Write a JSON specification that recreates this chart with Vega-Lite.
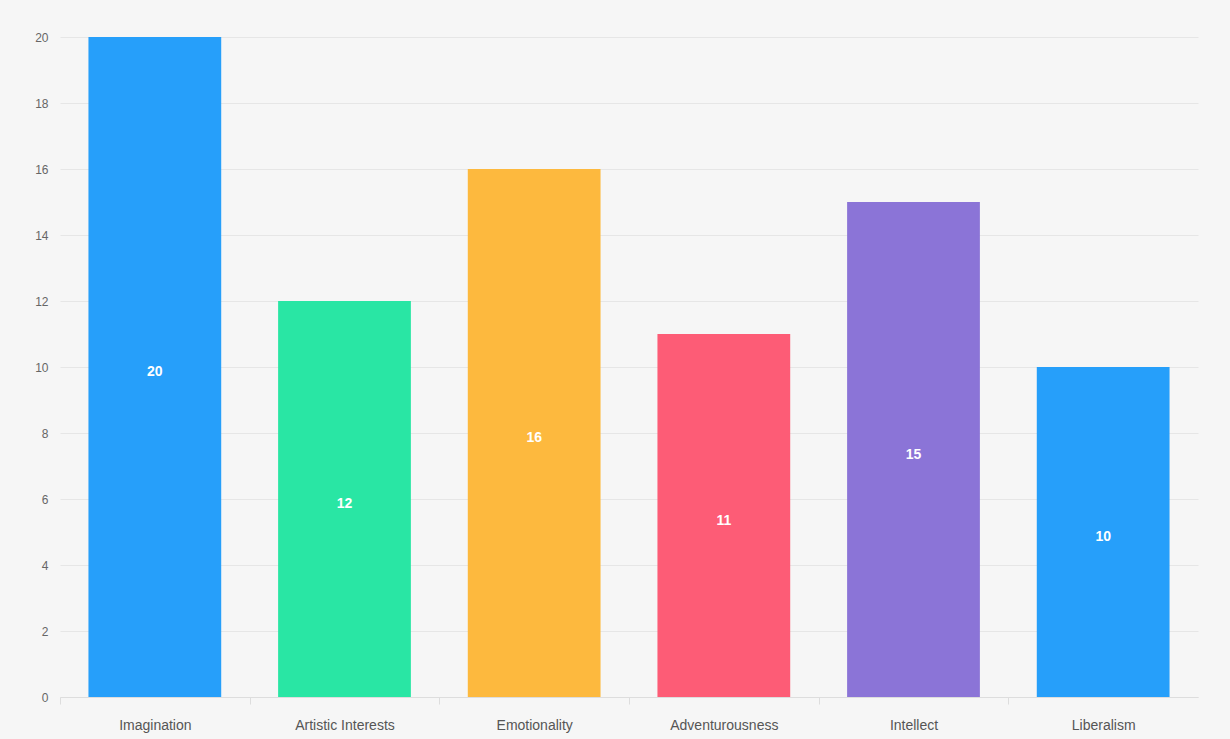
{
  "$schema": "https://vega.github.io/schema/vega-lite/v6.json",
  "autosize": {"type": "none"},
  "padding": {"left": 60, "top": 37, "right": 32, "bottom": 42},
  "width": 1138,
  "height": 660,
  "background": "#f6f6f6",
  "config": {
    "view": {"stroke": null},
    "font": "Liberation Sans"
  },
  "data": {
    "values": [
      {"trait": "Imagination", "score": 20},
      {"trait": "Artistic Interests", "score": 12},
      {"trait": "Emotionality", "score": 16},
      {"trait": "Adventurousness", "score": 11},
      {"trait": "Intellect", "score": 15},
      {"trait": "Liberalism", "score": 10}
    ]
  },
  "encoding": {
    "x": {
      "field": "trait",
      "type": "nominal",
      "sort": null,
      "scale": {"paddingInner": 0.3, "paddingOuter": 0.15},
      "axis": {
        "title": null,
        "labelAngle": 0,
        "labelFontSize": 14,
        "labelColor": "#555555",
        "labelPadding": 14,
        "domainColor": "#dddddd",
        "tickColor": "#dddddd",
        "tickSize": 7,
        "tickOffset": -94.83,
        "labelOffset": 94.83,
        "grid": false
      }
    }
  },
  "layer": [
    {
      "mark": {"type": "bar"},
      "encoding": {
        "y": {
          "field": "score",
          "type": "quantitative",
          "scale": {"domain": [0, 20]},
          "axis": {
            "title": null,
            "values": [0, 2, 4, 6, 8, 10, 12, 14, 16, 18, 20],
            "labelOverlap": false,
            "domain": false,
            "ticks": false,
            "labelFontSize": 12,
            "labelColor": "#666666",
            "labelPadding": 12,
            "gridColor": "#e6e6e6"
          }
        },
        "color": {
          "field": "trait",
          "type": "nominal",
          "sort": null,
          "legend": null,
          "scale": {
            "domain": ["Imagination", "Artistic Interests", "Emotionality", "Adventurousness", "Intellect", "Liberalism"],
            "range": ["#269ffa", "#29e6a4", "#fdb93e", "#fd5c76", "#8b74d7", "#269ffa"]
          }
        }
      }
    },
    {
      "mark": {"type": "text", "color": "#ffffff", "fontWeight": "bold", "fontSize": 14, "dy": 5},
      "transform": [{"calculate": "datum.score / 2", "as": "mid"}],
      "encoding": {
        "y": {"field": "mid", "type": "quantitative"},
        "text": {"field": "score", "type": "quantitative"}
      }
    }
  ]
}
